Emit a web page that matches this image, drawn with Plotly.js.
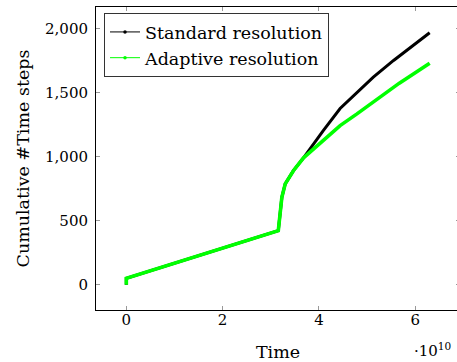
<!DOCTYPE html>
<html>
<head>
<meta charset="utf-8">
<script src="https://cdn.plot.ly/plotly-3.0.1.min.js"></script>
<style>
html,body{margin:0;padding:0;overflow:hidden;background:#fff;}
#chart{width:462px;height:362px;}
</style>
</head>
<body>
<div id="chart"></div>
<script>
// Time in units of 1e10
const stdTime  = [0, 0, 3.156, 3.23, 3.30, 3.47, 3.68, 3.81, 4.09, 4.44, 4.79, 5.13, 5.55, 6.30];
const stdSteps = [0, 50, 422, 682, 787, 890, 990, 1060, 1203, 1375, 1502, 1620, 1750, 1966];
const adaTime  = [0, 0, 3.156, 3.23, 3.30, 3.47, 3.68, 3.81, 4.09, 4.44, 4.79, 5.13, 5.48, 5.67, 6.30];
const adaSteps = [0, 50, 422, 682, 787, 890, 990, 1034, 1125, 1242, 1333, 1424, 1516, 1573, 1729];
const seriesNames = ['Standard resolution', 'Adaptive resolution'];
const xTickVals = [0, 2, 4, 6];
const xTickText = ['0', '2', '4', '6'];
const yTickVals = [0, 500, 1000, 1500, 2000];

const FONT = 'DejaVu Serif, serif';
const GREEN = '#00ff00';

const traces = [
  {x: stdTime, y: stdSteps, type: 'scatter', mode: 'lines', name: seriesNames[0],
   line: {color: '#000', width: 3}, showlegend: false},
  {x: adaTime, y: adaSteps, type: 'scatter', mode: 'lines', name: seriesNames[1],
   line: {color: GREEN, width: 3.6}, showlegend: false},
  {x: [null], y: [null], type: 'scatter', mode: 'lines+markers', name: seriesNames[0],
   line: {color: '#000', width: 1}, marker: {color: '#000', size: 3.5}},
  {x: [null], y: [null], type: 'scatter', mode: 'lines+markers', name: seriesNames[1],
   line: {color: GREEN, width: 1}, marker: {color: GREEN, size: 3.5}}
];

const layout = {
  width: 462, height: 362,
  margin: {l: 96, r: 2.4, t: 7, b: 52.4},
  paper_bgcolor: '#fff', plot_bgcolor: '#fff',
  font: {family: FONT, size: 15, color: '#000'},
  showlegend: true,
  legend: {x: 0.022, y: 0.98, xanchor: 'left', yanchor: 'top',
           bgcolor: '#fff', bordercolor: '#333', borderwidth: 1,
           font: {family: FONT, size: 17.5, color: '#000'}},
  xaxis: {
    range: [-0.63, 6.93], tickvals: xTickVals, ticktext: xTickText,
    showgrid: false, zeroline: false, showline: true, linecolor: '#000', linewidth: 1,
    mirror: 'ticks', ticks: 'inside', ticklen: 4, tickcolor: '#999', tickwidth: 1,
    tickfont: {family: FONT, size: 15}, ticklabelstandoff: -4,
    title: {text: 'Time', font: {family: FONT, size: 17.5}, standoff: 17},
    automargin: false
  },
  yaxis: {
    range: [-197, 2167], tickvals: yTickVals, tickformat: ',d',
    showgrid: false, zeroline: false, showline: true, linecolor: '#000', linewidth: 1,
    mirror: 'ticks', ticks: 'inside', ticklen: 4, tickcolor: '#999', tickwidth: 1,
    tickfont: {family: FONT, size: 15}, ticklabelstandoff: 4,
    title: {text: 'Cumulative #Time steps', font: {family: FONT, size: 17.5}, standoff: 10},
    automargin: false
  },
  annotations: [
    {xref: 'paper', yref: 'paper', x: 0.982, y: -0.133, xanchor: 'right', yanchor: 'middle',
     text: '·10<sup>10</sup>', showarrow: false, font: {family: FONT, size: 15}}
  ]
};

Plotly.newPlot('chart', traces, layout, {displayModeBar: false, staticPlot: true});
</script>
</body>
</html>
